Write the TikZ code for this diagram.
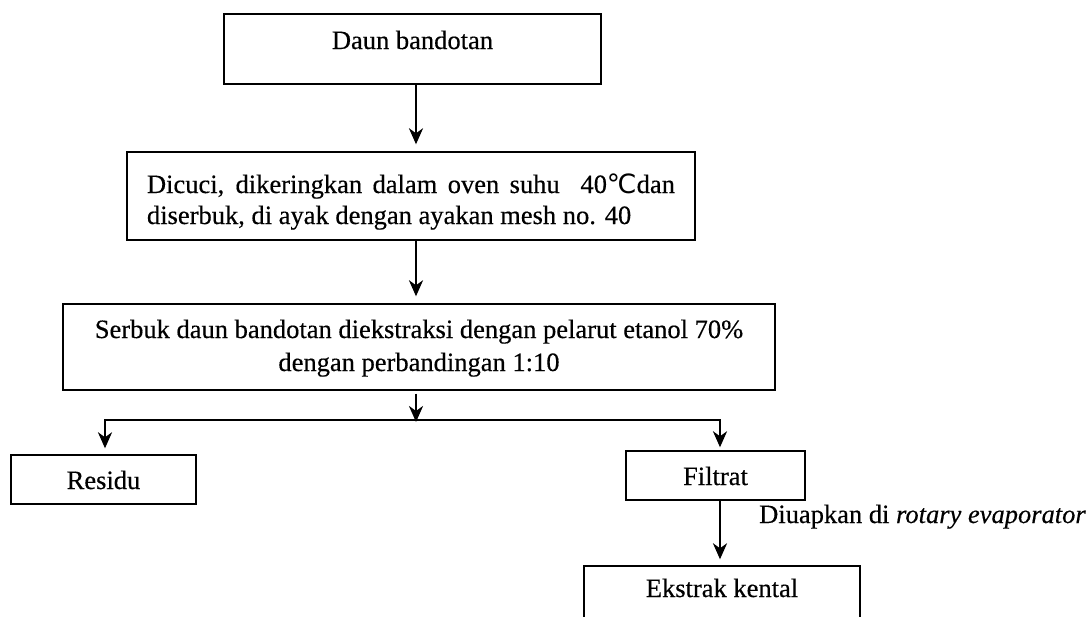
\documentclass[tikz,border=0pt]{standalone}
\usepackage{fontspec}
\setmainfont{Liberation Serif}[FakeBold=0.4,ItalicFeatures={FakeBold=0.4}]
\newfontfamily\symfont{DejaVu Sans}
\usetikzlibrary{arrows.meta}
\begin{document}
\begin{tikzpicture}[x=1pt,y=-1pt,
  box/.style={draw=black, line width=1.4pt, inner sep=0pt, font=\fontsize{26.5}{31}\selectfont},
  lbl/.style={inner sep=0pt, font=\fontsize{26.5}{31}\selectfont},
  arr/.style={line width=2.5pt, -{Stealth[length=16pt,width=14pt,inset=5pt]}}]
\useasboundingbox[fill=white] (0,0) rectangle (1091,616);

\node[box, minimum width=377pt, text height=35pt, text depth=35pt] (b1) at (412.5,49) {Daun bandotan};

\node[box, minimum width=568pt, text height=41pt, text depth=47pt] (b2) at (411,196)
  {\vtop{\hbox to 528pt{Dicuci, dikeringkan dalam oven suhu \ 40{\symfont ℃}dan}\hbox{diserbuk, di ayak dengan ayakan mesh no. 40}}};

\node[box, minimum width=712pt, text height=34pt, text depth=52pt] (b3) at (419,347)
  {\vtop{\baselineskip=33pt\halign{\hfil#\hfil\cr Serbuk daun bandotan diekstraksi dengan pelarut etanol 70\%\cr dengan perbandingan 1:10\cr}}};

\node[box, minimum width=185pt, text height=34pt, text depth=15pt] (res) at (103.5,479.5) {Residu};
\node[box, minimum width=179pt, text height=34pt, text depth=15pt] (fil) at (715.5,475.5) {Filtrat};
\node[box, minimum width=276pt, text height=31pt, text depth=33pt] (eks) at (722,598) {Ekstrak kental};

\node[lbl, anchor=base west] (note) at (759,523) {Diuapkan di \textit{rotary evaporator}};

\coordinate (X) at (416,0);
\coordinate (S) at (416,420);
\coordinate (L) at (105,420);
\coordinate (R) at (720,420);

\draw[arr, shorten >=7pt] (b1.south -| X) -- (b2.north -| X);
\draw[arr, shorten >=7pt] (b2.south -| X) -- (b3.north -| X);
\draw[arr, shorten <=3pt, shorten >=-2pt] (b3.south -| X) -- (S);
\draw[arr, shorten >=6pt] (S) -- (L) -- (L |- res.north);
\draw[arr, shorten >=3pt] (S) -- (R) -- (R |- fil.north);
\draw[arr, shorten >=6pt] (fil.south -| R) -- (eks.north -| R);
\end{tikzpicture}
\end{document}
